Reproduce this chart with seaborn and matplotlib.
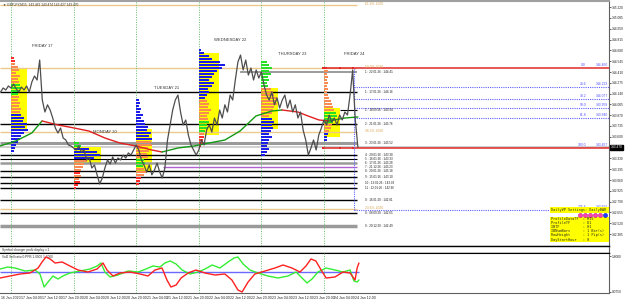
import numpy as np
import matplotlib
matplotlib.use("Agg")
import matplotlib.pyplot as plt
from matplotlib.patches import Rectangle
import matplotlib.transforms as mtransforms
import seaborn as sns

sns.set_style("white")
plt.rcParams['font.family'] = ['Liberation Sans', 'DejaVu Sans']

# ---------------- data ----------------
# hourly closes, hours counted in trading time from Fri 17 Jan 00:00
price_hours = list(range(-4, 134))
price_close = [144.160, 144.210, 144.185, 144.235, 144.210, 144.260, 144.198, 144.160,
               144.222, 144.185, 144.235, 144.160, 144.285, 144.360, 144.310, 144.560,
               144.060, 143.910, 144.000, 143.935, 143.835, 143.710, 143.648, 143.710,
               143.585, 143.560, 143.498, 143.485, 143.460, 143.435, 143.485, 143.410,
               143.435, 143.310, 143.335, 143.210, 143.248, 143.125, 143.010, 143.085,
               143.210, 143.310, 143.260, 143.348, 143.272, 143.335, 143.310, 143.372,
               143.335, 143.398, 143.372, 143.435, 143.498, 143.435, 143.310, 143.248,
               143.160, 143.248, 143.125, 143.185, 143.272, 143.160, 143.085, 143.210,
               143.560, 143.748, 143.935, 144.060, 144.122, 143.910, 143.748, 143.810,
               143.622, 143.498, 143.435, 143.372, 143.435, 143.560, 143.498, 143.685,
               143.748, 143.660, 143.835, 143.748, 143.935, 143.835, 144.000, 143.910,
               144.122, 144.060, 144.310, 144.535, 144.622, 144.435, 144.560, 144.372,
               144.460, 144.310, 144.435, 144.335, 144.410, 144.248, 144.122, 144.060,
               144.160, 144.000, 144.085, 143.960, 144.060, 144.122, 143.960, 144.060,
               143.910, 144.000, 143.835, 143.910, 143.685, 143.560, 143.372, 143.460,
               143.560, 143.435, 143.622, 143.710, 143.810, 143.748, 143.872, 143.785,
               143.835, 143.748, 143.872, 143.810, 143.910, 143.872, 144.122, 144.435,
               143.810, 143.470]

# two-colour moving average
ma_up1_h = [-4.2, 1.9, 8.0, 11.9]
ma_up1_p = [143.485, 143.548, 143.648, 143.798]
ma_dn1_h = [11.9, 18.0, 24.2, 29.9, 36.0, 41.8, 47.9, 54.0, 57.9]
ma_dn1_p = [143.798, 143.748, 143.710, 143.672, 143.585, 143.522, 143.485, 143.435, 143.410]
ma_up2_h = [57.9, 64.0, 70.2, 75.9, 82.0, 87.8, 93.9, 100.0, 103.9]
ma_up2_p = [143.410, 143.460, 143.485, 143.522, 143.560, 143.672, 143.860, 143.922, 143.935]
ma_dn2_h = [103.9, 110.0, 113.9, 118.1, 121.9]
ma_dn2_p = [143.935, 143.910, 143.860, 143.810, 143.798]
ma_up3_h = [121.9, 128.0, 133.0]
ma_up3_p = [143.798, 143.835, 143.848]

# daily volume profiles
day_start_h = [0, 24, 48, 72, 96, 120]
day_names = ["FRIDAY 17", "MONDAY 20", "TUESDAY 21", "WEDNESDAY 22", "THURSDAY 23", "FRIDAY 24"]
prof_top_price = [144.585, 143.5225, 144.060, 144.685, 144.535, 144.460]
prof_len = [
    [1, 1.5, 1.5, 2.5, 3, 2, 3.5, 2.5, 3, 3.5, 4, 3, 2.5, 3, 2.5, 3.5, 3, 4, 3.5,
     4, 5, 4.5, 6, 5.5, 6.5, 5, 4, 3.5, 2.5, 2, 1.5, 1],
    [2, 3, 6, 9, 10, 8, 5, 4, 3.5, 3, 2.5, 3, 2, 2.5, 1.5, 1],
    [1, 1.5, 1, 2, 1.5, 2.5, 2, 3, 3.5, 4.5, 4, 5.5, 5, 6, 5.5, 6, 4.5, 5, 4, 4.5,
     3, 3.5, 2.5, 3, 4, 3, 2, 1.5, 1],
    [1, 2, 4, 5, 8, 10, 9, 7, 6, 5, 4, 6, 5, 3.5, 4, 3, 2.5, 3, 4, 3.5, 4.5, 4, 3,
     3.5, 4, 3, 3.5, 2.5, 2, 2, 1.5, 1.5, 1],
    [2, 3, 4, 3, 3.5, 2.5, 3, 2, 2.5, 3.5, 4.5, 5, 6, 5.5, 6, 5, 4.5, 4, 3, 4, 5, 4,
     4.5, 3.5, 3, 4, 3, 2.5, 2, 3, 2, 1.5],
    [1, 1.5, 1, 1.5, 1, 1.5, 1, 1.5, 1, 1.5, 2, 2.5, 3, 3.5, 4, 4.5, 5, 4, 3.5, 3,
     2.5, 2, 1.5, 1, 1],
]
prof_col = [
    "RROOOOOOOGGGGOOOOOOBBBBBBBBBBBBB",
    "GGBBBBOOOOROORRR",
    "BBBBBBBBBBBBBBOOOOOOGGGOOORRR",
    "BBBBBBBBBBBBBBBBBOOOOOOOGGGGORRRR",
    "GGGGGGGGGOOOOOOOOOOBBBBBBBBBBBBB",
    "ROOOOOOOOOOOOOOGGGGOOOBBB",
]
va_end_h = [6.1, 34.4, 54.1, 79.7, 102.5, 126.1]
va_high = [144.460, 143.4725, 143.6975, 144.6475, 144.210, 143.960]
va_low = [143.685, 143.2725, 143.160, 143.6225, 143.6975, 143.5975]

# horizontal levels
level_price = [144.410, 144.160, 143.935, 143.760, 143.522, 143.375, 143.325, 143.275,
               143.225, 143.175, 143.100, 143.025, 142.960, 142.810, 142.648, 142.485]
level_color = ['#8a8a8a', 'black', 'black', 'black', '#9a9a9a', 'black', 'black', '#9a9a9a',
               '#b060d0', 'black', 'black', 'black', 'black', 'black', 'black', '#9a9a9a']
level_width = [1.2, 1, 0.8, 1, 2.2, 1, 0.8, 1.8, 1, 1, 1, 1, 1, 1, 1, 2.5]
level_start_px = [240, 0, 340, 0, 0, 0, 0, 0, 163, 0, 0, 0, 0, 0, 0, 0]
level_text = ["1 : 22:01:26 : 144.41", "1 : 17:01:26 : 144.16", "1 : 18:09:26 : 143.94",
              "2 : 21:01:26 : 143.76", "3 : 23:01:26 : 143.52", "4 : 20:01:26 : 143.38",
              "5 : 16:01:26 : 143.33", "6 : 17:01:26 : 143.28", "7 : 21:12:26 : 143.23",
              "8 : 20:01:26 : 143.18", "9 : 15:01:26 : 143.10", "10 : 13:01:26 : 143.03",
              "11 : 12:01:26 : 142.96", "0 : 16:01:20 : 142.81", "0 : 08:09:20 : 142.65",
              "0 : 20:12:20 : 142.49"]

pct_price = [145.2475, 144.460, 143.660, 142.6975]
pct_text = ["61.8% 2020", "50.0% 2020", "38.2% 2020", "23.6% 2020"]

fib_level = ["0.0", "23.6", "38.2", "50.0", "61.8", "100.0", "176.4"]
fib_price = [144.460, 144.223, 144.077, 143.959, 143.840, 143.457, 142.691]

# oscillator
osc_red_h = [-4.2, -0.4, 3.5, 7.3, 10.4, 11.9, 13.4, 15.0, 16.9, 19.6, 22.6, 25.7, 29.5,
             33.0, 35.3, 36.8, 39.1, 41.8, 45.6, 49.5, 52.5, 55.2, 57.9, 59.8, 61.3, 63.3,
             65.2, 67.9, 70.9, 74.4, 78.2, 82.0, 84.7, 87.0, 88.6, 90.9, 93.5, 97.4, 101.2,
             104.3, 107.7, 110.8, 113.1, 115.0, 116.9, 118.9, 120.8, 124.2, 127.3, 130.0,
             131.9, 132.7, 133.4]
osc_red_v = [0.70, 0.80, 0.90, 0.95, 1.20, 1.50, 1.75, 1.65, 1.45, 1.50, 1.30, 1.10, 1.00,
             1.15, 1.45, 1.10, 0.80, 0.95, 1.00, 0.90, 0.80, 1.10, 1.20, 0.60, 0.25, 0.35,
             0.70, 0.95, 1.10, 0.95, 0.85, 0.90, 0.60, 0.10, 0.00, 0.50, 0.90, 1.05, 1.20,
             1.35, 1.20, 1.00, 1.30, 1.65, 1.55, 1.10, 0.70, 0.75, 1.00, 0.95, 0.60, 1.20,
             1.45]
osc_grn_h = [-4.2, -1.2, 1.5, 5.4, 9.2, 11.1, 12.7, 14.2, 16.1, 18.0, 19.9, 22.6, 26.5,
             30.3, 33.0, 34.5, 36.0, 38.0, 41.0, 44.9, 48.7, 51.8, 54.4, 57.1, 59.0, 61.0,
             63.3, 65.6, 68.6, 71.7, 74.4, 77.1, 80.1, 83.2, 85.5, 87.0, 89.0, 91.6, 94.7,
             98.5, 102.4, 106.2, 109.3, 111.6, 113.5, 115.4, 117.7, 120.8, 124.2, 127.3,
             130.0, 131.5, 132.7, 133.4]
osc_grn_v = [1.15, 1.25, 1.20, 1.05, 1.10, 0.90, 0.25, 0.50, 0.80, 0.65, 0.80, 0.95, 1.05,
             1.15, 1.30, 1.45, 1.00, 0.75, 0.85, 1.05, 1.00, 1.15, 1.30, 1.25, 1.45, 1.55,
             1.40, 1.10, 0.90, 1.00, 1.15, 1.35, 1.20, 1.50, 1.70, 1.75, 1.40, 1.10, 0.95,
             0.80, 0.70, 0.80, 1.00, 0.70, 0.45, 0.65, 1.00, 1.20, 1.10, 1.00, 1.10, 0.55,
             0.50, 0.60]
osc_base = 1.0

price_ticks = [145.220, 145.085, 144.950, 144.815, 144.680, 144.545, 144.410, 144.275,
               144.140, 144.005, 143.870, 143.735, 143.600, 143.465, 143.330, 143.195,
               143.060, 142.925, 142.790, 142.655, 142.520, 142.385]
time_tick_h = [-4, 4, 12, 20, 28, 36, 44, 52, 60, 68, 76, 84, 92, 100, 108, 116, 124, 132]
time_tick_lab = ["16 Jan 2020", "17 Jan 04:00", "17 Jan 12:00", "17 Jan 20:00",
                 "20 Jan 04:00", "20 Jan 12:00", "20 Jan 20:00", "21 Jan 04:00",
                 "21 Jan 12:00", "21 Jan 20:00", "22 Jan 04:00", "22 Jan 12:00",
                 "22 Jan 20:00", "23 Jan 04:00", "23 Jan 12:00", "23 Jan 20:00",
                 "24 Jan 04:00", "24 Jan 12:00"]
info_lines = ["ProfileDataTF  : M15", "ProfileTF      : D1", "IBTF           : H1",
              "IBNumBars      : 1 Bar(s)", "RowHeight      : 1 Pip(s)", "DayStartHour   : 0"]

# ---------------- layout helpers (pixel -> data) ----------------
W, H = 625, 301


def hx(px):
    return (px - 11) * 0.3834


def py(y):
    return 145.31 - y / 80.0


def vy(y):
    return 1 + (272 - y) * 0.05


def rect(x0, y0, x1, y1):
    return [x0 / W, 1 - y1 / H, (x1 - x0) / W, (y1 - y0) / H]


fig = plt.figure(figsize=(W / 100, H / 100), dpi=100)
ax = fig.add_axes(rect(0, 1, 609, 246))
ax_sym = fig.add_axes(rect(0, 246, 609, 253))
ax_osc = fig.add_axes(rect(0, 253, 609, 293))

XL = (hx(0), hx(609))
for a in (ax, ax_sym, ax_osc):
    a.set_xlim(*XL)
    a.set_facecolor('white')

ax.set_ylim(py(246), py(1))

# bid line
ax.hlines(price_close[-1], XL[0], XL[1], color='#d0d0d0', lw=1.4, zorder=1)

# value-area boxes
for s, e, hi, lo in zip(day_start_h, va_end_h, va_high, va_low):
    ax.add_patch(Rectangle((s, lo), e - s, hi - lo, color='#ffff00', lw=0, zorder=2))

# level lines & labels
for p, c, w, sp, t in zip(level_price, level_color, level_width, level_start_px, level_text):
    ax.hlines(p, hx(sp), hx(357), color=c, lw=w, zorder=3)
    ax.text(hx(365), p, t, fontsize=2.2, color='#202020', va='center', ha='left', zorder=8)

for p, t in zip(pct_price, pct_text):
    ax.hlines(p, hx(0), hx(357), color='#ecc98a', lw=1.0, zorder=3)
    ax.text(hx(365), p + 0.012, t, fontsize=2.4, color='#d9a552', va='center', ha='left', zorder=8)

# day separators
for s in day_start_h:
    for a in (ax, ax_osc):
        a.axvline(s, color='#66bb66', lw=0.7, ls=(0, (1, 1.5)), zorder=3)

# profiles
cmap = {'O': '#f98a52', 'R': '#ff2a2a', 'B': '#1c1ce8', 'G': '#26e026'}
row = 0.0375
for s, top, lens, cols in zip(day_start_h, prof_top_price, prof_len, prof_col):
    ys = [top - i * row for i in range(len(lens))]
    ax.barh(ys, lens, height=0.026, left=s, color=[cmap[c] for c in cols], lw=0, zorder=4)

# Friday 24 fibonacci
for lv, p in zip(fib_level, fib_price):
    if lv in ("0.0", "100.0"):
        ax.hlines(p, hx(323), XL[1], color='#e02828', lw=1.1, zorder=5)
    else:
        ax.hlines(p, hx(354), XL[1], color='#6060ff', lw=0.8, ls=(0, (1, 1)), zorder=5)
    ax.text(hx(586), p + 0.01, lv, fontsize=2.4, color='#5050ff', ha='right', va='bottom', zorder=8)
    ax.text(hx(608), p + 0.01, f"{p:.3f}", fontsize=2.4, color='#5050ff', ha='right', va='bottom', zorder=8)
ax.vlines(hx(354), fib_price[-1], fib_price[0], color='#6060ff', lw=0.8, ls=(0, (1, 1)), zorder=5)
ax.scatter([hx(323), hx(340), hx(353)] * 2, [fib_price[0]] * 3 + [fib_price[5]] * 3,
           marker='s', s=3, color='#e02828', zorder=6, lw=0)

# moving average
for hh, pp, c in [(ma_up1_h, ma_up1_p, '#129a12'), (ma_dn1_h, ma_dn1_p, '#e02020'),
                  (ma_up2_h, ma_up2_p, '#129a12'), (ma_dn2_h, ma_dn2_p, '#e02020'),
                  (ma_up3_h, ma_up3_p, '#129a12')]:
    sns.lineplot(x=hh, y=pp, ax=ax, color=c, lw=1.0, estimator=None, sort=False,
                 legend=False, zorder=6)

# price
sns.lineplot(x=price_hours, y=price_close, ax=ax, color='#4d4d4d', lw=0.9,
             estimator=None, sort=False, legend=False, zorder=7)

# day labels
day_lab_px = [(42, 46), (105, 132), (167, 88), (230, 40), (292, 54), (354, 54)]
for (xp, yp), n in zip(day_lab_px, day_names):
    ax.text(hx(xp), py(yp), n, fontsize=3.0, color='#333333', ha='center', va='center', zorder=8)

# header text
ax.text(hx(3), py(4.5), "\u25bc GBPJPY,M15  143.462 143.474 143.427 143.470", fontsize=2.3,
        color='#333333', ha='left', va='center', zorder=8)

# info box
ax.add_patch(Rectangle((hx(550), py(212.5)), hx(609) - hx(550), py(206.5) - py(212.5),
                       color='#ffff00', lw=0, zorder=8))
ax.text(hx(551), py(209.5), "DailyVP Settings: DailyBAR", fontsize=2.5, family='DejaVu Sans Mono',
        ha='left', va='center', zorder=9)
ax.scatter([hx(580), hx(585), hx(590), hx(595), hx(600)], [py(214.5)] * 5, s=9,
           color='#ff40b0', edgecolor='#b00070', lw=0.3, zorder=9)
ax.scatter([hx(605)], [py(214.5)], s=9, color='#2040ff', edgecolor='#0000a0', lw=0.3, zorder=9)
ax.add_patch(Rectangle((hx(550), py(242)), hx(609) - hx(550), py(217) - py(242),
                       color='#ffff00', lw=0, zorder=8))
for i, t in enumerate(info_lines):
    ax.text(hx(551), py(219.5 + i * 4.0), t, fontsize=2.5, family='DejaVu Sans Mono',
            ha='left', va='center', zorder=9)

# axes styling - main
ax.set_xticks([])
ax.yaxis.tick_right()
ax.set_yticks(price_ticks)
ax.set_yticklabels([f"{v:.3f}" for v in price_ticks], fontsize=2.35)
ax.tick_params(axis='y', length=1.5, pad=0.4, width=0.5, colors='#222222')
ax.set_xlabel('')
ax.set_ylabel('')
ax.spines['left'].set_visible(False)
ax.spines['top'].set_color('#a0a0a0')
ax.spines['top'].set_linewidth(1.5)
ax.spines['right'].set_color('#606060')
ax.spines['bottom'].set_color('black')

# current price box
trans = mtransforms.blended_transform_factory(ax.transAxes, ax.transData)
ax.text(1.003, price_close[-1], "143.470", transform=trans, fontsize=2.35, color='white',
        ha='left', va='center', clip_on=False, zorder=10,
        bbox=dict(boxstyle='square,pad=0.2', fc='black', ec='black'))

# symbol changer panel
ax_sym.set_xticks([])
ax_sym.set_yticks([])
ax_sym.spines['left'].set_visible(False)
for sp in ('top', 'bottom'):
    ax_sym.spines[sp].set_color('black')
    ax_sym.spines[sp].set_linewidth(1.0)
ax_sym.spines['right'].set_color('#606060')
ax_sym.text(0.004, 0.5, "Symbol changer profit display v.1", transform=ax_sym.transAxes,
            fontsize=2.3, color='#333333', va='center', ha='left')

# oscillator
ax_osc.set_ylim(vy(293), vy(253))
ax_osc.hlines(osc_base, osc_red_h[0], osc_red_h[-1], color='#6a6aff', lw=1.0, zorder=2)
sns.lineplot(x=osc_grn_h, y=osc_grn_v, ax=ax_osc, color='#33ee33', lw=1.0, estimator=None,
             sort=False, legend=False, zorder=3)
sns.lineplot(x=osc_red_h, y=osc_red_v, ax=ax_osc, color='#ff2020', lw=1.0, estimator=None,
             sort=False, legend=False, zorder=4)
ax_osc.text(0.004, vy(257), "Vol2 Sell ratio 0.PPB 1.0000 1.0000", fontsize=2.3,
            color='#333333', va='center', ha='left',
            transform=mtransforms.blended_transform_factory(ax_osc.transAxes, ax_osc.transData))
ax_osc.yaxis.tick_right()
ax_osc.set_yticks([vy(256), vy(291.5)])
ax_osc.set_yticklabels(["1.8000", "0.0750"], fontsize=2.35)
ax_osc.tick_params(axis='y', length=1.5, pad=0.4, width=0.5, colors='#222222')
ax_osc.set_xticks(time_tick_h)
ax_osc.set_xticklabels(time_tick_lab, fontsize=2.5, ha='left')
ax_osc.tick_params(axis='x', length=1.5, pad=0.8, width=0.5, colors='#222222')
ax_osc.set_xlabel('')
ax_osc.set_ylabel('')
ax_osc.spines['left'].set_visible(False)
ax_osc.spines['top'].set_color('black')
ax_osc.spines['bottom'].set_color('#606060')
ax_osc.spines['right'].set_color('#606060')

fig.savefig("out.png", dpi=100, facecolor='white')
